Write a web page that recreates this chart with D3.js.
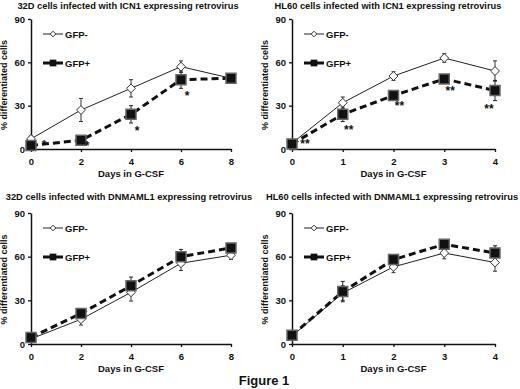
<!DOCTYPE html>
<meta charset="utf-8">
<style>
  body { margin: 0; background: #fff; }
  text { font-family: "Liberation Sans", Arial, sans-serif; fill: #111; }
</style>
<script src="https://d3js.org/d3.v7.min.js"></script>
<body>
<div id="chart"></div>
<script>

var titles = ["32D cells infected with ICN1 expressing retrovirus",
              "HL60 cells infected with ICN1 expressing retrovirus",
              "32D cells infected with DNMAML1 expressing retrovirus",
              "HL60 cells infected with DNMAML1 expressing retrovirus"];

var days32D = [0, 2, 4, 6, 8];
var daysHL60 = [0, 1, 2, 3, 4];
var yTicks = [0, 30, 60, 90];

// panel 1: 32D ICN1
var p1Neg = [7, 27, 42, 57, 49];
var p1NegErr = [2, 8, 6, 4, 2];
var p1Pos = [2.5, 6, 24, 48, 49];
var p1PosErr = [1, 1.5, 6, 6, 3];
var p1Stars = ["*", "*", "*", "*", ""];

// panel 2: HL60 ICN1
var p2Neg = [4, 32, 50.5, 63, 54];
var p2NegErr = [1, 4, 3, 3, 7];
var p2Pos = [3.5, 24, 37, 48.5, 40.5];
var p2PosErr = [1, 5, 2, 3, 7];
var p2Stars = ["**", "**", "**", "**", "**"];

// panel 3: 32D DNMAML1
var p3Neg = [3.5, 17, 35.5, 55.5, 61];
var p3NegErr = [1, 4, 6, 5, 3];
var p3Pos = [4.5, 21, 40, 60, 66];
var p3PosErr = [1, 3, 6, 5, 3];

// panel 4: HL60 DNMAML1
var p4Neg = [5.5, 35, 53, 62.5, 56];
var p4NegErr = [1, 5, 4, 4, 6];
var p4Pos = [6, 36, 58, 68.5, 62.5];
var p4PosErr = [1, 7, 3, 3, 5];

var width = 520, height = 389;

var svg = d3.select("#chart").append("svg")
    .attr("width", width)
    .attr("height", height);

var panels = [
  { title: titles[0], days: days32D, neg: p1Neg, negErr: p1NegErr, pos: p1Pos, posErr: p1PosErr, stars: p1Stars,
    x0: 31, x1: 231, y0: 149, y1: 19, tx: 128, ty: 9 },
  { title: titles[1], days: daysHL60, neg: p2Neg, negErr: p2NegErr, pos: p2Pos, posErr: p2PosErr, stars: p2Stars,
    x0: 292, x1: 495, y0: 149, y1: 19, tx: 388, ty: 9 },
  { title: titles[2], days: days32D, neg: p3Neg, negErr: p3NegErr, pos: p3Pos, posErr: p3PosErr, stars: null,
    x0: 31, x1: 231, y0: 344, y1: 213, tx: 129, ty: 200 },
  { title: titles[3], days: daysHL60, neg: p4Neg, negErr: p4NegErr, pos: p4Pos, posErr: p4PosErr, stars: null,
    x0: 292, x1: 495, y0: 344, y1: 213, tx: 392, ty: 200 }
];

panels.forEach(function(p) {
  var g = svg.append("g");
  var x = d3.scaleLinear().domain([0, d3.max(p.days)]).range([p.x0, p.x1]);
  var y = d3.scaleLinear().domain([0, 90]).range([p.y0, p.y1]);

  g.append("text")
      .attr("x", p.tx).attr("y", p.ty)
      .attr("text-anchor", "middle")
      .style("font-size", "9.3px").style("font-weight", "bold")
      .text(p.title);

  // axes
  var xa = g.append("g").attr("transform", "translate(0," + p.y0 + ")")
      .call(d3.axisBottom(x).tickValues(p.days).tickFormat(d3.format("d"))
        .tickSize(3).tickSizeOuter(0).tickPadding(6));
  var ya = g.append("g").attr("transform", "translate(" + p.x0 + ",0)")
      .call(d3.axisLeft(y).tickValues(yTicks).tickFormat(d3.format("d"))
        .tickSize(3).tickSizeOuter(0).tickPadding(3));
  [xa, ya].forEach(function(a) {
    a.select(".domain").attr("stroke", "#111").attr("stroke-width", 1.5);
    a.selectAll(".tick line").attr("stroke", "#111").attr("stroke-width", 1.3);
    a.selectAll(".tick text").style("font-size", "9.5px").style("font-weight", "bold")
      .style("font-family", "Liberation Sans, Arial, sans-serif").attr("fill", "#111");
  });

  g.append("text")
      .attr("x", (p.x0 + p.x1) / 2).attr("y", p.y0 + 28)
      .attr("text-anchor", "middle")
      .style("font-size", "9.5px").style("font-weight", "bold")
      .text("Days in G-CSF");

  g.append("text")
      .attr("transform", "translate(" + (p.x0 - 24) + "," + ((p.y0 + p.y1) / 2 + 1) + ") rotate(-90)")
      .attr("text-anchor", "middle")
      .style("font-size", "9px").style("font-weight", "bold")
      .text("% differentiated cells");

  function errBars(vals, errs, color) {
    g.selectAll(null).data(vals).enter().append("path")
        .attr("d", function(d, i) {
          var cx = x(p.days[i]), lo = y(d - errs[i]), hi = y(d + errs[i]);
          return "M" + cx + "," + lo + "V" + hi + "M" + (cx - 2) + "," + hi + "H" + (cx + 2) +
                 "M" + (cx - 2) + "," + lo + "H" + (cx + 2);
        })
        .attr("stroke", color).attr("stroke-width", 1).attr("fill", "none");
  }

  var line = d3.line().x(function(d, i) { return x(p.days[i]); }).y(function(d) { return y(d); });

  // GFP- (open diamonds, solid line)
  errBars(p.neg, p.negErr, "#333");
  g.append("path").datum(p.neg).attr("d", line)
      .attr("fill", "none").attr("stroke", "#222").attr("stroke-width", 1);

  // GFP+ (filled squares, dashed)
  errBars(p.pos, p.posErr, "#222");
  g.append("path").datum(p.pos).attr("d", line)
      .attr("fill", "none").attr("stroke", "#111").attr("stroke-width", 3)
      .attr("stroke-dasharray", "7,4");

  var diamond = d3.symbol().type(d3.symbolDiamond2).size(50);
  g.selectAll(null).data(p.neg).enter().append("path")
      .attr("d", diamond)
      .attr("transform", function(d, i) { return "translate(" + x(p.days[i]) + "," + y(d) + ")"; })
      .attr("fill", "#fff").attr("stroke", "#333").attr("stroke-width", 1);

  var square = d3.symbol().type(d3.symbolSquare).size(100);
  g.selectAll(null).data(p.pos).enter().append("path")
      .attr("d", square)
      .attr("transform", function(d, i) { return "translate(" + x(p.days[i]) + "," + y(d) + ")"; })
      .attr("fill", "#111").attr("stroke", "#666").attr("stroke-width", 1.5);

  // significance marks, kept above the x axis
  if (p.stars) {
    g.selectAll(null).data(p.pos).enter().append("text")
        .attr("x", function(d, i) {
          var cx = x(p.days[i]);
          if (i === 0) return cx + 13;
          return i === p.days.length - 1 ? cx - 6 : cx + 6;
        })
        .attr("y", function(d, i) {
          return i === 0 ? y(d) + 4 : Math.min(y(d - p.posErr[i]) + 12, p.y0 + 1);
        })
        .attr("text-anchor", "middle")
        .style("font-size", "12px").style("font-weight", "bold")
        .text(function(d, i) { return p.stars[i]; });
  }

  // legend
  var lx = p.x0 + 12, ly1 = p.y1 + 15, ly2 = p.y1 + 44;
  g.append("line").attr("x1", lx).attr("x2", lx + 20).attr("y1", ly1).attr("y2", ly1)
      .attr("stroke", "#222").attr("stroke-width", 1);
  g.append("path").attr("d", d3.symbol().type(d3.symbolDiamond2).size(20))
      .attr("transform", "translate(" + (lx + 10) + "," + ly1 + ")")
      .attr("fill", "#fff").attr("stroke", "#333");
  g.append("text").attr("x", lx + 22).attr("y", ly1 + 3.5)
      .style("font-size", "9.5px").style("font-weight", "bold").text("GFP-");
  g.append("line").attr("x1", lx).attr("x2", lx + 20).attr("y1", ly2).attr("y2", ly2)
      .attr("stroke", "#111").attr("stroke-width", 3);
  g.append("path").attr("d", d3.symbol().type(d3.symbolSquare).size(45))
      .attr("transform", "translate(" + (lx + 10) + "," + ly2 + ")")
      .attr("fill", "#111");
  g.append("text").attr("x", lx + 22).attr("y", ly2 + 3.5)
      .style("font-size", "9.5px").style("font-weight", "bold").text("GFP+");
});

svg.append("text")
    .attr("x", 264).attr("y", 385)
    .attr("text-anchor", "middle")
    .style("font-size", "13px").style("font-weight", "bold")
    .text("Figure 1");

</script>
</body>
